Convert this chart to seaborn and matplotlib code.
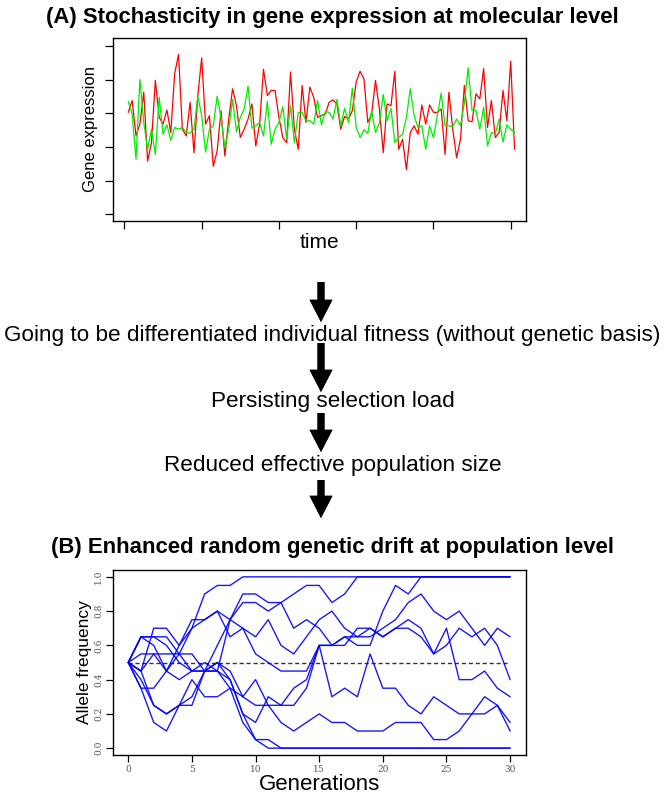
import numpy as np
import pandas as pd
import matplotlib
matplotlib.use('Agg')
import matplotlib.pyplot as plt
import seaborn as sns

# (A) two noisy expression traces over time
red_expr = [30.3, 33.8, 23.3, 26.8, 36.3, 15.8, 21.3, 39.8, 28.8, 26.8,
            31.0, 24.3, 41.8, 47.5, 25.3, 23.3, 33.3, 18.3, 35.3, 46.5,
            26.8, 29.3, 14.3, 18.8, 30.8, 17.3, 28.3, 37.3, 32.3, 22.8,
            25.3, 28.3, 32.8, 20.3, 26.8, 43.1, 35.3, 36.8, 36.8, 28.8,
            22.8, 21.3, 42.3, 25.3, 19.3, 38.3, 27.3, 37.8, 34.8, 28.8,
            29.3, 29.8, 33.3, 34.0, 32.8, 25.3, 29.1, 28.3, 30.8, 39.3,
            42.5, 40.3, 27.3, 29.8, 39.8, 31.3, 18.3, 32.8, 32.3, 42.5,
            19.3, 22.3, 13.3, 24.3, 26.3, 23.8, 32.5, 26.8, 32.5, 30.3,
            30.3, 31.3, 17.8, 36.3, 25.3, 16.8, 22.3, 38.3, 27.8, 27.5,
            35.8, 34.3, 43.3, 25.8, 33.8, 22.8, 24.3, 36.8, 27.8, 45.5,
            19.3]
green_expr = [33.5, 29.8, 16.3, 40.1, 27.3, 19.3, 25.3, 17.8, 34.8, 23.8,
              26.6, 22.0, 25.8, 25.3, 25.8, 24.3, 24.1, 25.3, 35.1, 29.3,
              18.5, 25.3, 26.3, 35.1, 28.8, 19.8, 25.3, 34.1, 24.6, 28.8,
              31.3, 38.1, 25.6, 26.3, 27.3, 23.3, 33.6, 20.8, 25.3, 27.3,
              32.0, 22.3, 32.3, 21.3, 30.3, 30.3, 27.8, 27.8, 26.8, 33.8,
              26.6, 30.5, 30.3, 28.3, 34.1, 26.3, 31.5, 27.3, 37.5, 25.8,
              22.8, 25.1, 24.1, 30.8, 24.3, 27.1, 35.6, 27.8, 31.5, 21.3,
              22.8, 23.8, 28.8, 37.3, 29.3, 25.8, 26.3, 19.3, 26.3, 22.8,
              29.3, 36.0, 26.3, 26.3, 26.1, 28.3, 26.3, 33.1, 43.5, 30.8,
              30.9, 25.3, 31.8, 20.3, 24.3, 23.8, 28.3, 21.5, 26.6, 25.3,
              24.3]

# (B) allele frequency trajectories, generations 0..30
generations = list(range(31))
runs = [
    [0.50, 0.45, 0.55, 0.45, 0.60, 0.70, 0.90, 0.95, 0.95, 1.00, 1.00, 1.00, 1.00, 1.00, 1.00, 1.00,
     1.00, 1.00, 1.00, 1.00, 1.00, 1.00, 1.00, 1.00, 1.00, 1.00, 1.00, 1.00, 1.00, 1.00, 1.00],
    [0.50, 0.55, 0.55, 0.55, 0.55, 0.55, 0.45, 0.45, 0.75, 0.90, 0.90, 0.85, 0.85, 0.90, 0.95, 0.95,
     0.85, 0.90, 1.00, 1.00, 1.00, 1.00, 1.00, 1.00, 1.00, 1.00, 1.00, 1.00, 1.00, 1.00, 1.00],
    [0.50, 0.65, 0.65, 0.65, 0.55, 0.45, 0.45, 0.60, 0.75, 0.85, 0.85, 0.80, 0.85, 0.70, 0.75, 0.70,
     0.60, 0.65, 0.60, 0.60, 0.80, 0.95, 0.90, 1.00, 1.00, 1.00, 1.00, 1.00, 1.00, 1.00, 1.00],
    [0.50, 0.45, 0.70, 0.70, 0.60, 0.75, 0.75, 0.80, 0.75, 0.70, 0.55, 0.50, 0.45, 0.45, 0.45, 0.60,
     0.60, 0.65, 0.65, 0.65, 0.70, 0.75, 0.85, 0.90, 0.80, 0.75, 0.80, 0.70, 0.60, 0.70, 0.65],
    [0.50, 0.35, 0.35, 0.45, 0.55, 0.70, 0.75, 0.80, 0.65, 0.70, 0.65, 0.75, 0.60, 0.55, 0.65, 0.75,
     0.80, 0.70, 0.65, 0.70, 0.65, 0.70, 0.75, 0.70, 0.55, 0.60, 0.70, 0.65, 0.70, 0.60, 0.40],
    [0.50, 0.45, 0.25, 0.20, 0.25, 0.30, 0.45, 0.50, 0.45, 0.30, 0.25, 0.25, 0.25, 0.25, 0.35, 0.60,
     0.60, 0.60, 0.70, 0.70, 0.65, 0.70, 0.70, 0.65, 0.55, 0.70, 0.40, 0.40, 0.45, 0.35, 0.30],
    [0.50, 0.65, 0.60, 0.45, 0.40, 0.45, 0.50, 0.45, 0.40, 0.20, 0.15, 0.30, 0.25, 0.35, 0.40, 0.60,
     0.30, 0.35, 0.30, 0.55, 0.35, 0.35, 0.25, 0.20, 0.30, 0.25, 0.20, 0.20, 0.20, 0.25, 0.15],
    [0.50, 0.40, 0.25, 0.20, 0.25, 0.40, 0.30, 0.30, 0.35, 0.30, 0.40, 0.25, 0.15, 0.10, 0.15, 0.20,
     0.15, 0.15, 0.10, 0.10, 0.10, 0.15, 0.15, 0.15, 0.05, 0.05, 0.10, 0.20, 0.30, 0.25, 0.10],
    [0.50, 0.35, 0.15, 0.10, 0.25, 0.25, 0.45, 0.50, 0.40, 0.20, 0.05, 0.00, 0.00, 0.00, 0.00, 0.00,
     0.00, 0.00, 0.00, 0.00, 0.00, 0.00, 0.00, 0.00, 0.00, 0.00, 0.00, 0.00, 0.00, 0.00, 0.00],
    [0.50, 0.65, 0.65, 0.60, 0.50, 0.45, 0.45, 0.45, 0.35, 0.15, 0.05, 0.05, 0.00, 0.00, 0.00, 0.00,
     0.00, 0.00, 0.00, 0.00, 0.00, 0.00, 0.00, 0.00, 0.00, 0.00, 0.00, 0.00, 0.00, 0.00, 0.00],
]
start_freq = 0.5

steps = [
    'Going to be differentiated individual fitness (without genetic basis)',
    'Persisting selection load',
    'Reduced effective population size',
]

sns.set_style('white')
plt.rcParams['font.family'] = ['Liberation Sans', 'DejaVu Sans']
plt.rcParams['text.color'] = 'black'
plt.rcParams['axes.labelcolor'] = 'black'

fig = plt.figure(figsize=(6.65, 7.95), dpi=100)
H = 795.0


def fy(px):
    return 1 - px / H


# ---- panel A
axA = fig.add_axes([113 / 665, fy(221), 413 / 665, 183 / H])
t = np.arange(1, len(red_expr) + 1)
sns.lineplot(x=t, y=red_expr, ax=axA, color='red', lw=0.9)
sns.lineplot(x=t, y=green_expr, ax=axA, color='#00ee00', lw=0.9)
axA.set_xlim(-2.96, 103.96)
axA.set_ylim(-2.0, 52.4)
axA.set_xticks([0, 20, 40, 60, 80, 100])
axA.set_yticks([0, 10, 20, 30, 40, 50])
axA.set_xticklabels([])
axA.set_yticklabels([])
axA.tick_params(direction='out', length=6, width=0.9, color='black', left=True, bottom=True)
for s in axA.spines.values():
    s.set_color('black')
    s.set_linewidth(1.0)
axA.set_xlabel('time', fontsize=15, labelpad=-1)
axA.set_ylabel('Gene expression', fontsize=12, labelpad=1)
fig.text(0.5, fy(17), '(A) Stochasticity in gene expression at molecular level',
         ha='center', va='center', fontsize=15.9, fontweight='bold')

# ---- arrows and text between panels
arrow_spans = [(282, 322), (343, 392), (413, 452), (480, 518)]
for top, bot in arrow_spans:
    fig.add_artist(plt.annotate('', xy=(321 / 665, fy(bot)), xytext=(321 / 665, fy(top)),
                                xycoords='figure fraction', textcoords='figure fraction',
                                arrowprops=dict(width=5, headwidth=16.5, headlength=16,
                                                facecolor='black', edgecolor='black', lw=0)))
for label, ypx in zip(steps, [336, 401, 466]):
    fig.text(0.5, fy(ypx), label, ha='center', va='center', fontsize=16.2)

# ---- panel B
rows = []
for i, run in enumerate(runs):
    for g, f in zip(generations, run):
        rows.append({'run': i, 'gen': g, 'freq': f})
drift = pd.DataFrame(rows)

axB = fig.add_axes([113 / 665, fy(755), 413 / 665, 185 / H])
axB.axhline(start_freq, color='#333333', lw=1.0, ls=(0, (3, 2)), xmin=1.2 / 32.45, xmax=31.2 / 32.45)
sns.lineplot(data=drift, x='gen', y='freq', units='run', estimator=None, ax=axB,
             color='blue', lw=1.0, alpha=0.9)
axB.set_xlim(-1.2, 31.25)
axB.set_ylim(-0.04, 1.04)
axB.set_xticks([0, 5, 10, 15, 20, 25, 30])
axB.set_yticks([0.0, 0.2, 0.4, 0.6, 0.8, 1.0])
axB.set_yticklabels(['0.0', '0.2', '0.4', '0.6', '0.8', '1.0'], rotation=90, va='center')
for lab in axB.get_xticklabels() + axB.get_yticklabels():
    lab.set_fontfamily('DejaVu Serif')
    lab.set_fontsize(6.5)
    lab.set_color('#555555')
axB.tick_params(direction='out', length=5, width=0.9, color='black', left=True, bottom=True, pad=2)
for s in axB.spines.values():
    s.set_color('black')
    s.set_linewidth(1.0)
axB.set_xlabel('Generations', fontsize=16, labelpad=0)
axB.set_ylabel('Allele frequency', fontsize=12.5, labelpad=2)
fig.text(0.5, fy(548), '(B) Enhanced random genetic drift at population level',
         ha='center', va='center', fontsize=15.9, fontweight='bold')

fig.savefig('out.png', dpi=100)
